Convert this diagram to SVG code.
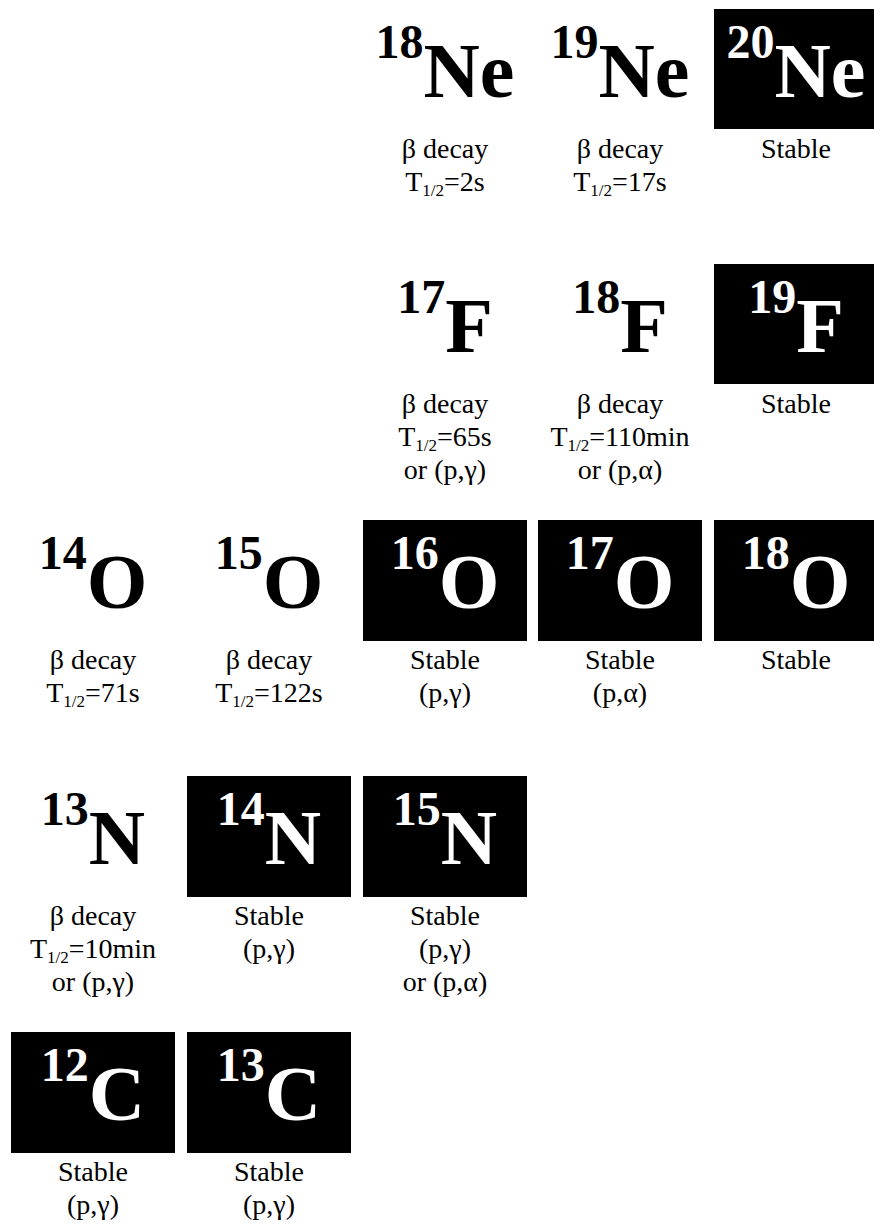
<svg xmlns="http://www.w3.org/2000/svg" width="874" height="1227" viewBox="0 0 874 1227">
<style>
.bg{fill:#fff}
.box{fill:#000}
.sym{font-weight:bold;text-anchor:middle;fill:#000}
.inv .sym{fill:#fff}
.sup{font-size:48px}
.el{font-size:78px}
.lbl{font-size:28px;text-anchor:middle;fill:#000}
.sub{font-size:17px}
</style>
<rect class="bg" x="0" y="0" width="874" height="1227"/>
<g id="connectors"/>
<g font-family="Liberation Serif, serif">
<!-- Row Ne -->
<g id="Ne18">
<text class="sym" x="445" y="97"><tspan class="sup" dy="-39">18</tspan><tspan class="el" dy="39">Ne</tspan></text>
<text class="lbl" x="445" y="158">β decay</text>
<text class="lbl" x="445" y="191">T<tspan class="sub" dy="5">1/2</tspan><tspan dy="-5">=2s</tspan></text>
</g>
<g id="Ne19">
<text class="sym" x="620" y="97"><tspan class="sup" dy="-39">19</tspan><tspan class="el" dy="39">Ne</tspan></text>
<text class="lbl" x="620" y="158">β decay</text>
<text class="lbl" x="620" y="191">T<tspan class="sub" dy="5">1/2</tspan><tspan dy="-5">=17s</tspan></text>
</g>
<g id="Ne20" class="inv">
<rect class="box" x="714" y="9" width="164" height="120"/>
<text class="sym" x="796" y="97"><tspan class="sup" dy="-39">20</tspan><tspan class="el" dy="39">Ne</tspan></text>
<text class="lbl" x="796" y="158">Stable</text>
</g>

<!-- Row F -->
<g id="F17">
<text class="sym" x="445" y="352"><tspan class="sup" dy="-39">17</tspan><tspan class="el" dy="39">F</tspan></text>
<text class="lbl" x="445" y="413">β decay</text>
<text class="lbl" x="445" y="446">T<tspan class="sub" dy="5">1/2</tspan><tspan dy="-5">=65s</tspan></text>
<text class="lbl" x="445" y="479">or (p,γ)</text>
</g>
<g id="F18">
<text class="sym" x="620" y="352"><tspan class="sup" dy="-39">18</tspan><tspan class="el" dy="39">F</tspan></text>
<text class="lbl" x="620" y="413">β decay</text>
<text class="lbl" x="620" y="446">T<tspan class="sub" dy="5">1/2</tspan><tspan dy="-5">=110min</tspan></text>
<text class="lbl" x="620" y="479">or (p,α)</text>
</g>
<g id="F19" class="inv">
<rect class="box" x="714" y="264" width="164" height="120"/>
<text class="sym" x="796" y="352"><tspan class="sup" dy="-39">19</tspan><tspan class="el" dy="39">F</tspan></text>
<text class="lbl" x="796" y="413">Stable</text>
</g>

<!-- Row O -->
<g id="O14">
<text class="sym" x="93" y="608"><tspan class="sup" dy="-39">14</tspan><tspan class="el" dy="39">O</tspan></text>
<text class="lbl" x="93" y="669">β decay</text>
<text class="lbl" x="93" y="702">T<tspan class="sub" dy="5">1/2</tspan><tspan dy="-5">=71s</tspan></text>
</g>
<g id="O15">
<text class="sym" x="269" y="608"><tspan class="sup" dy="-39">15</tspan><tspan class="el" dy="39">O</tspan></text>
<text class="lbl" x="269" y="669">β decay</text>
<text class="lbl" x="269" y="702">T<tspan class="sub" dy="5">1/2</tspan><tspan dy="-5">=122s</tspan></text>
</g>
<g id="O16" class="inv">
<rect class="box" x="363" y="520" width="164" height="121"/>
<text class="sym" x="445" y="608"><tspan class="sup" dy="-39">16</tspan><tspan class="el" dy="39">O</tspan></text>
<text class="lbl" x="445" y="669">Stable</text>
<text class="lbl" x="445" y="702">(p,γ)</text>
</g>
<g id="O17" class="inv">
<rect class="box" x="538" y="520" width="164" height="121"/>
<text class="sym" x="620" y="608"><tspan class="sup" dy="-39">17</tspan><tspan class="el" dy="39">O</tspan></text>
<text class="lbl" x="620" y="669">Stable</text>
<text class="lbl" x="620" y="702">(p,α)</text>
</g>
<g id="O18" class="inv">
<rect class="box" x="714" y="520" width="164" height="121"/>
<text class="sym" x="796" y="608"><tspan class="sup" dy="-39">18</tspan><tspan class="el" dy="39">O</tspan></text>
<text class="lbl" x="796" y="669">Stable</text>
</g>

<!-- Row N -->
<g id="N13">
<text class="sym" x="93" y="864"><tspan class="sup" dy="-39">13</tspan><tspan class="el" dy="39">N</tspan></text>
<text class="lbl" x="93" y="925">β decay</text>
<text class="lbl" x="93" y="958">T<tspan class="sub" dy="5">1/2</tspan><tspan dy="-5">=10min</tspan></text>
<text class="lbl" x="93" y="991">or (p,γ)</text>
</g>
<g id="N14" class="inv">
<rect class="box" x="187" y="776" width="164" height="121"/>
<text class="sym" x="269" y="864"><tspan class="sup" dy="-39">14</tspan><tspan class="el" dy="39">N</tspan></text>
<text class="lbl" x="269" y="925">Stable</text>
<text class="lbl" x="269" y="958">(p,γ)</text>
</g>
<g id="N15" class="inv">
<rect class="box" x="363" y="776" width="164" height="121"/>
<text class="sym" x="445" y="864"><tspan class="sup" dy="-39">15</tspan><tspan class="el" dy="39">N</tspan></text>
<text class="lbl" x="445" y="925">Stable</text>
<text class="lbl" x="445" y="958">(p,γ)</text>
<text class="lbl" x="445" y="991">or (p,α)</text>
</g>

<!-- Row C -->
<g id="C12" class="inv">
<rect class="box" x="11" y="1032" width="164" height="121"/>
<text class="sym" x="93" y="1120"><tspan class="sup" dy="-39">12</tspan><tspan class="el" dy="39">C</tspan></text>
<text class="lbl" x="93" y="1181">Stable</text>
<text class="lbl" x="93" y="1214">(p,γ)</text>
</g>
<g id="C13" class="inv">
<rect class="box" x="187" y="1032" width="164" height="121"/>
<text class="sym" x="269" y="1120"><tspan class="sup" dy="-39">13</tspan><tspan class="el" dy="39">C</tspan></text>
<text class="lbl" x="269" y="1181">Stable</text>
<text class="lbl" x="269" y="1214">(p,γ)</text>
</g>
</g>
</svg>
